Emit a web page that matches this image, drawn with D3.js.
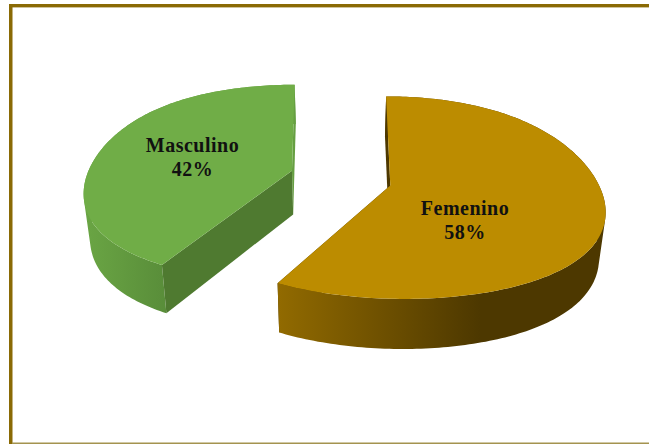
<!DOCTYPE html>
<html><head><meta charset="utf-8">
<script src="https://d3js.org/d3.v7.min.js"></script>
<style>html,body{margin:0;padding:0;background:#fff}svg{display:block}</style>
</head><body><svg id="c" width="649" height="444"></svg>
<script>
const categories = ["Femenino", "Masculino"];
const shares = [58, 42];
const topColors = ["#bc8c00", "#70ad47"];
const W = 649, H = 444;
const svg = d3.select("#c");

// tilted-disc projection of the plane of the pie
const cx = 340.5, cy = 178, R = 206, Ry = 98, persp = 0.12, spreadA = 0.172, spreadB = 0.102, explode = 0.25;
const depth = 44, shrinkX = 0.975, growY = 1.05;
function project(X, Y, low) {
  const s = 1 / (1 - persp * Y);
  let x = R * X * (1 + spreadA * Y + spreadB * Y * Y), y = Ry * Y * s;
  if (low) { x *= shrinkX; y = y * growY + depth; }
  return [cx + x, cy + y];
}
const rad = Math.PI / 180;
const rot = 0 * rad, explodeTurn = 3 * rad;
const arcs = d3.pie().sort(null).startAngle(rot).endAngle(rot + 2 * Math.PI)(shares);
function slice(a) {
  const m = (a.startAngle + a.endAngle) / 2 + explodeTurn;
  const ox = explode * Math.sin(m), oy = -explode * Math.cos(m);
  const rim = d3.range(a.startAngle, a.endAngle, rad).concat([a.endAngle])
    .map(t => [ox + Math.sin(t), oy - Math.cos(t)]);
  return {ox, oy, rim};
}
const slices = arcs.map(slice);
const line = d3.line();
const defs = svg.append("defs");
const g0 = defs.append("linearGradient").attr("id", "gF").attr("gradientUnits", "userSpaceOnUse")
  .attr("x1", 279).attr("x2", 480).attr("y1", 0).attr("y2", 0);
g0.append("stop").attr("offset", 0).attr("stop-color", "#916a00");
g0.append("stop").attr("offset", 1).attr("stop-color", "#4d3800");
const g1 = defs.append("linearGradient").attr("id", "gM").attr("gradientUnits", "userSpaceOnUse")
  .attr("x1", 85).attr("x2", 300).attr("y1", 0).attr("y2", 0);
g1.append("stop").attr("offset", 0).attr("stop-color", "#6aa544");
g1.append("stop").attr("offset", 0.395).attr("stop-color", "#588c39");
g1.append("stop").attr("offset", 0.41).attr("stop-color", "#669f42");
g1.append("stop").attr("offset", 1).attr("stop-color", "#669f42");
const sideFill = ["url(#gF)", "url(#gM)"];
const startWall = ["#4d3800", "#4f7a30"];
const endWall = ["#4d3800", "#669f42"];

slices.forEach((s, i) => {
  const g = svg.append("g");
  const top = s.rim.map(p => project(p[0], p[1], false));
  const low = s.rim.map(p => project(p[0], p[1], true));
  const apexT = project(s.ox, s.oy, false), apexL = project(s.ox, s.oy, true);
  g.append("path").attr("fill", endWall[i])
    .attr("d", line([apexT, top[top.length - 1], low[low.length - 1], apexL]) + "Z");
  // outer side: one path of swept hulls, so the silhouette stays convex without seams
  const sweep = d3.range(top.length - 1)
    .map(k => line(d3.polygonHull([top[k], top[k + 1], low[k + 1], low[k]])) + "Z").join("");
  g.append("path").attr("fill", sideFill[i]).attr("d", sweep);
  g.append("path").attr("fill", startWall[i])
    .attr("d", line([apexT, top[0], low[0], apexL]) + "Z");
  g.append("path").attr("fill", topColors[i])
    .attr("d", line([apexT].concat(top)) + "Z");
});

const labelPos = [[465, 215], [192.5, 152]];
categories.forEach((c, i) => {
  const t = svg.append("text").attr("text-anchor", "middle")
    .attr("font-family", "'Liberation Serif','Times New Roman',serif")
    .attr("font-weight", "bold").attr("font-size", 20).attr("letter-spacing", 0.5).attr("fill", "#111");
  t.append("tspan").attr("x", labelPos[i][0]).attr("y", labelPos[i][1]).text(c);
  t.append("tspan").attr("x", labelPos[i][0]).attr("y", labelPos[i][1] + 23.5).text(shares[i] + "%");
});

// frame
svg.append("rect").attr("x", 9).attr("y", 4).attr("width", 640).attr("height", 3.4).attr("fill", "#8a6a05");
svg.append("rect").attr("x", 9).attr("y", 4).attr("width", 3.5).attr("height", 440).attr("fill", "#8a6a05");
svg.append("rect").attr("x", 12).attr("y", 442.5).attr("width", 637).attr("height", 1.5).attr("fill", "#a4934f");
</script></body></html>
